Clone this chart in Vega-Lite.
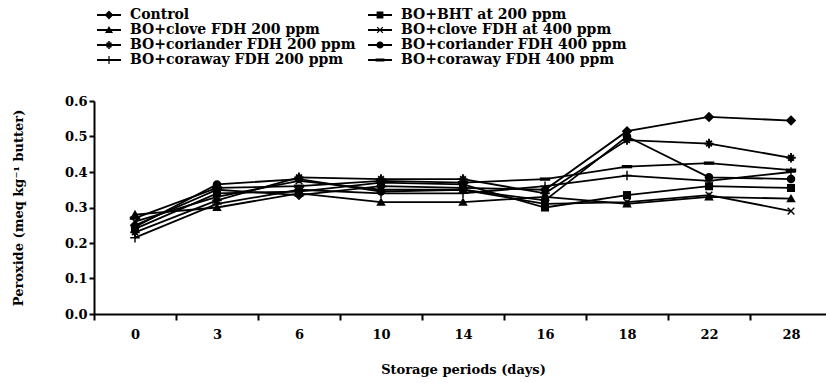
{
  "$schema": "https://vega.github.io/schema/vega-lite/v6.json",
  "width": 732,
  "height": 213,
  "autosize": {"type": "none"},
  "padding": {"left": 94, "top": 101, "right": 0, "bottom": 69},
  "background": "white",
  "config": {
    "view": {"stroke": null},
    "font": "DejaVu Serif",
    "axis": {
      "domainColor": "black", "domainWidth": 2, "tickColor": "black", "tickWidth": 2,
      "labelColor": "black", "titleColor": "black", "labelFont": "DejaVu Serif", "titleFont": "DejaVu Serif",
      "labelFontSize": 13, "titleFontSize": 13, "labelFontWeight": "bold", "titleFontWeight": "bold", "grid": false
    }
  },
  "data": {"values": [
    {"day": 0, "series": "Control", "value": 0.25},
    {"day": 0, "series": "BO+BHT at 200 ppm", "value": 0.24},
    {"day": 0, "series": "BO+clove FDH 200 ppm", "value": 0.28},
    {"day": 0, "series": "BO+clove FDH at 400 ppm", "value": 0.26},
    {"day": 0, "series": "BO+coriander FDH 200 ppm", "value": 0.23},
    {"day": 0, "series": "BO+coriander FDH 400 ppm", "value": 0.245},
    {"day": 0, "series": "BO+coraway FDH 200 ppm", "value": 0.215},
    {"day": 0, "series": "BO+coraway FDH 400 ppm", "value": 0.27},
    {"day": 3, "series": "Control", "value": 0.35},
    {"day": 3, "series": "BO+BHT at 200 ppm", "value": 0.34},
    {"day": 3, "series": "BO+clove FDH 200 ppm", "value": 0.30},
    {"day": 3, "series": "BO+clove FDH at 400 ppm", "value": 0.33},
    {"day": 3, "series": "BO+coriander FDH 200 ppm", "value": 0.32},
    {"day": 3, "series": "BO+coriander FDH 400 ppm", "value": 0.365},
    {"day": 3, "series": "BO+coraway FDH 200 ppm", "value": 0.31},
    {"day": 3, "series": "BO+coraway FDH 400 ppm", "value": 0.355},
    {"day": 6, "series": "Control", "value": 0.335},
    {"day": 6, "series": "BO+BHT at 200 ppm", "value": 0.345},
    {"day": 6, "series": "BO+clove FDH 200 ppm", "value": 0.34},
    {"day": 6, "series": "BO+clove FDH at 400 ppm", "value": 0.375},
    {"day": 6, "series": "BO+coriander FDH 200 ppm", "value": 0.385},
    {"day": 6, "series": "BO+coriander FDH 400 ppm", "value": 0.38},
    {"day": 6, "series": "BO+coraway FDH 200 ppm", "value": 0.35},
    {"day": 6, "series": "BO+coraway FDH 400 ppm", "value": 0.36},
    {"day": 10, "series": "Control", "value": 0.36},
    {"day": 10, "series": "BO+BHT at 200 ppm", "value": 0.37},
    {"day": 10, "series": "BO+clove FDH 200 ppm", "value": 0.315},
    {"day": 10, "series": "BO+clove FDH at 400 ppm", "value": 0.35},
    {"day": 10, "series": "BO+coriander FDH 200 ppm", "value": 0.38},
    {"day": 10, "series": "BO+coriander FDH 400 ppm", "value": 0.345},
    {"day": 10, "series": "BO+coraway FDH 200 ppm", "value": 0.34},
    {"day": 10, "series": "BO+coraway FDH 400 ppm", "value": 0.375},
    {"day": 14, "series": "Control", "value": 0.355},
    {"day": 14, "series": "BO+BHT at 200 ppm", "value": 0.365},
    {"day": 14, "series": "BO+clove FDH 200 ppm", "value": 0.315},
    {"day": 14, "series": "BO+clove FDH at 400 ppm", "value": 0.35},
    {"day": 14, "series": "BO+coriander FDH 200 ppm", "value": 0.38},
    {"day": 14, "series": "BO+coriander FDH 400 ppm", "value": 0.35},
    {"day": 14, "series": "BO+coraway FDH 200 ppm", "value": 0.34},
    {"day": 14, "series": "BO+coraway FDH 400 ppm", "value": 0.37},
    {"day": 16, "series": "Control", "value": 0.35},
    {"day": 16, "series": "BO+BHT at 200 ppm", "value": 0.30},
    {"day": 16, "series": "BO+clove FDH 200 ppm", "value": 0.33},
    {"day": 16, "series": "BO+clove FDH at 400 ppm", "value": 0.31},
    {"day": 16, "series": "BO+coriander FDH 200 ppm", "value": 0.34},
    {"day": 16, "series": "BO+coriander FDH 400 ppm", "value": 0.32},
    {"day": 16, "series": "BO+coraway FDH 200 ppm", "value": 0.36},
    {"day": 16, "series": "BO+coraway FDH 400 ppm", "value": 0.38},
    {"day": 18, "series": "Control", "value": 0.515},
    {"day": 18, "series": "BO+BHT at 200 ppm", "value": 0.335},
    {"day": 18, "series": "BO+clove FDH 200 ppm", "value": 0.31},
    {"day": 18, "series": "BO+clove FDH at 400 ppm", "value": 0.315},
    {"day": 18, "series": "BO+coriander FDH 200 ppm", "value": 0.49},
    {"day": 18, "series": "BO+coriander FDH 400 ppm", "value": 0.50},
    {"day": 18, "series": "BO+coraway FDH 200 ppm", "value": 0.39},
    {"day": 18, "series": "BO+coraway FDH 400 ppm", "value": 0.415},
    {"day": 22, "series": "Control", "value": 0.555},
    {"day": 22, "series": "BO+BHT at 200 ppm", "value": 0.36},
    {"day": 22, "series": "BO+clove FDH 200 ppm", "value": 0.33},
    {"day": 22, "series": "BO+clove FDH at 400 ppm", "value": 0.335},
    {"day": 22, "series": "BO+coriander FDH 200 ppm", "value": 0.48},
    {"day": 22, "series": "BO+coriander FDH 400 ppm", "value": 0.385},
    {"day": 22, "series": "BO+coraway FDH 200 ppm", "value": 0.375},
    {"day": 22, "series": "BO+coraway FDH 400 ppm", "value": 0.425},
    {"day": 28, "series": "Control", "value": 0.545},
    {"day": 28, "series": "BO+BHT at 200 ppm", "value": 0.355},
    {"day": 28, "series": "BO+clove FDH 200 ppm", "value": 0.325},
    {"day": 28, "series": "BO+clove FDH at 400 ppm", "value": 0.29},
    {"day": 28, "series": "BO+coriander FDH 200 ppm", "value": 0.44},
    {"day": 28, "series": "BO+coriander FDH 400 ppm", "value": 0.38},
    {"day": 28, "series": "BO+coraway FDH 200 ppm", "value": 0.40},
    {"day": 28, "series": "BO+coraway FDH 400 ppm", "value": 0.405}
  ]},
  "encoding": {
    "x": {
      "field": "day", "type": "ordinal",
      "scale": {"type": "band", "range": [0, 738], "paddingInner": 0, "paddingOuter": 0},
      "axis": {"title": "Storage periods (days)", "labelAngle": 0, "tickBand": "extent", "tickSize": 6, "labelPadding": 8, "titlePadding": 22}
    },
    "y": {
      "field": "value", "type": "quantitative",
      "scale": {"domain": [0, 0.6], "nice": false, "zero": true},
      "axis": {"title": "Peroxide (meq kg⁻¹ butter)", "values": [0, 0.1, 0.2, 0.3, 0.4, 0.5, 0.6], "format": ".1f", "tickSize": 5, "labelPadding": 2, "titlePadding": 39}
    }
  },
  "resolve": {"scale": {"shape": "independent"}, "legend": {"shape": "independent"}},
  "layer": [
    {
      "mark": {"type": "line", "color": "black", "strokeWidth": 1.8},
      "encoding": {"detail": {"field": "series", "type": "nominal"}}
    },
    {
      "mark": {"type": "point", "filled": true, "color": "black", "size": 90, "opacity": 1},
      "encoding": {
        "shape": {
          "field": "series", "type": "nominal",
          "scale": {
            "domain": ["Control", "BO+BHT at 200 ppm", "BO+clove FDH 200 ppm", "BO+clove FDH at 400 ppm", "BO+coriander FDH 200 ppm", "BO+coriander FDH 400 ppm", "BO+coraway FDH 200 ppm", "BO+coraway FDH 400 ppm"],
            "range": [
              "M0,-1.1L1.1,0L0,1.1L-1.1,0Z",
              "M-0.85,-0.85H0.85V0.85H-0.85Z",
              "M0,-1L1,0.75H-1Z",
              "M-0.6,-0.81L0,-0.21L0.6,-0.81L0.81,-0.6L0.21,0L0.81,0.6L0.6,0.81L0,0.21L-0.6,0.81L-0.81,0.6L-0.21,0L-0.81,-0.6Z",
              "M-1,-0.2H-0.2V-1H0.2V-0.2H1V0.2H0.2V1H-0.2V0.2H-1ZM-0.46,-0.74L0,-0.28L0.46,-0.74L0.74,-0.46L0.28,0L0.74,0.46L0.46,0.74L0,0.28L-0.46,0.74L-0.74,0.46L-0.28,0L-0.74,-0.46Z",
              "M0.9,0A0.9,0.9,0,1,1,-0.9,0A0.9,0.9,0,1,1,0.9,0Z",
              "M-1,-0.15H-0.15V-1H0.15V-0.15H1V0.15H0.15V1H-0.15V0.15H-1Z",
              "M-1.1,-0.35H1.1V0.35H-1.1Z"
            ]
          },
          "legend": null
        }
      }
    },
    {
      "transform": [{"filter": "datum.value < 0"}],
      "mark": {"type": "point", "filled": true, "color": "black", "size": 64, "opacity": 1},
      "encoding": {
        "shape": {
          "field": "series", "type": "nominal",
          "scale": {
            "domain": ["Control", "BO+BHT at 200 ppm", "BO+clove FDH 200 ppm", "BO+clove FDH at 400 ppm", "BO+coriander FDH 200 ppm", "BO+coriander FDH 400 ppm", "BO+coraway FDH 200 ppm", "BO+coraway FDH 400 ppm"],
            "range": [
              "M-3,-0.22H3V0.22H-3ZM0,-1.1L1.1,0L0,1.1L-1.1,0Z",
              "M-3,-0.22H3V0.22H-3ZM-0.85,-0.85H0.85V0.85H-0.85Z",
              "M-3,-0.22H3V0.22H-3ZM0,-1L1,0.75H-1Z",
              "M-3,-0.22H3V0.22H-3ZM-0.6,-0.81L0,-0.21L0.6,-0.81L0.81,-0.6L0.21,0L0.81,0.6L0.6,0.81L0,0.21L-0.6,0.81L-0.81,0.6L-0.21,0L-0.81,-0.6Z",
              "M-3,-0.22H3V0.22H-3ZM-1,-0.2H-0.2V-1H0.2V-0.2H1V0.2H0.2V1H-0.2V0.2H-1ZM-0.46,-0.74L0,-0.28L0.46,-0.74L0.74,-0.46L0.28,0L0.74,0.46L0.46,0.74L0,0.28L-0.46,0.74L-0.74,0.46L-0.28,0L-0.74,-0.46Z",
              "M-3,-0.22H3V0.22H-3ZM0.9,0A0.9,0.9,0,1,1,-0.9,0A0.9,0.9,0,1,1,0.9,0Z",
              "M-3,-0.22H3V0.22H-3ZM-1,-0.15H-0.15V-1H0.15V-0.15H1V0.15H0.15V1H-0.15V0.15H-1Z",
              "M-3,-0.22H3V0.22H-3ZM-1.1,-0.35H1.1V0.35H-1.1Z"
            ]
          },
          "legend": {
            "title": null, "orient": "none", "legendX": 8, "legendY": -93, "columns": 2, "direction": "horizontal",
            "padding": 0, "columnPadding": 12, "rowPadding": 1, "symbolSize": 64, "symbolOffset": 0, "labelOffset": 14,
            "labelFont": "DejaVu Serif", "labelFontSize": 14, "labelFontWeight": "bold", "labelColor": "black", "labelLimit": 400,
            "symbolFillColor": "black", "symbolStrokeColor": "black", "symbolStrokeWidth": 0, "symbolOpacity": 1
          }
        }
      }
    }
  ]
}
